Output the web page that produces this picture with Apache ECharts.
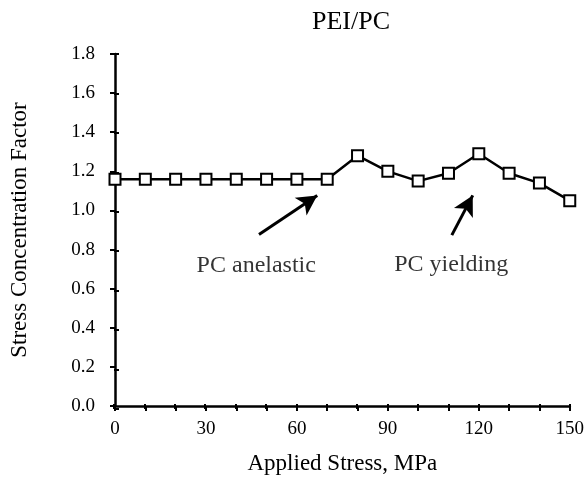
<!DOCTYPE html>
<html>
<head>
<meta charset="utf-8">
<script src="https://cdn.jsdelivr.net/npm/echarts@6/dist/echarts.min.js"></script>
<style>
  html, body { margin: 0; padding: 0; background: #fff; }
  #chart { width: 587px; height: 480px; }
</style>
</head>
<body>
<div id="chart"></div>
<script>
// Applied stress (MPa) and measured stress concentration factor
const stress = [0, 10, 20, 30, 40, 50, 60, 70, 80, 90, 100, 110, 120, 130, 140, 150];
const factor = [1.16, 1.16, 1.16, 1.16, 1.16, 1.16, 1.16, 1.16, 1.28, 1.20, 1.15, 1.19, 1.29, 1.19, 1.14, 1.05];

// Annotation arrows: [fromX, fromY, toX, toY] in data units
const arrowAnelastic = [47.5, 0.877, 66.7, 1.077];
const arrowYielding = [111.1, 0.874, 118.0, 1.077];
// Annotation text positions [x, y, text]
const notes = [
  [46.6, 0.717, 'PC anelastic'],
  [110.9, 0.72, 'PC yielding']
];

const FONT = '"Liberation Serif", "DejaVu Serif", serif';
const grid = { left: 114, right: 17, top: 54, bottom: 71 };

const chart = echarts.init(document.getElementById('chart'), null, { renderer: 'canvas' });

const xBase = { type: 'value', min: 0, max: 150, interval: 10 };
const yBase = { type: 'value', min: 0, max: 1.8, interval: 0.2 };

chart.setOption({
  backgroundColor: '#fff',
  animation: false,
  title: {
    text: 'PEI/PC',
    left: 346, top: 4, textAlign: 'center',
    textStyle: { fontFamily: FONT, fontSize: 26, fontWeight: 'normal', color: '#000' }
  },
  grid: [Object.assign({}, grid), Object.assign({}, grid)],
  xAxis: [
    Object.assign({}, xBase, {
      gridIndex: 0,
      name: 'Applied Stress, MPa',
      nameLocation: 'middle',
      nameGap: 46,
      nameTextStyle: { fontFamily: FONT, fontSize: 23, color: '#000' },
      axisLine: { onZero: false, lineStyle: { color: '#000', width: 2.5 } },
      axisTick: { show: true, inside: false, length: 5, lineStyle: { color: '#000', width: 2 } },
      axisLabel: {
        margin: 14, fontFamily: FONT, fontSize: 19, color: '#000',
        formatter: v => (v % 30 === 0 ? String(v) : '')
      },
      splitLine: { show: false }
    }),
    // inner half of the crossing tick marks
    Object.assign({}, xBase, {
      gridIndex: 1, position: 'bottom',
      axisLine: { show: false, onZero: false },
      axisTick: { show: true, inside: true, length: 5, lineStyle: { color: '#000', width: 2 } },
      axisLabel: { show: false },
      splitLine: { show: false }
    })
  ],
  yAxis: [
    Object.assign({}, yBase, {
      gridIndex: 0,
      name: 'Stress Concentration Factor',
      nameLocation: 'middle',
      nameGap: 84,
      nameTextStyle: { fontFamily: FONT, fontSize: 23, color: '#000' },
      axisLine: { show: true, onZero: false, lineStyle: { color: '#000', width: 2.5 } },
      axisTick: { show: true, inside: false, length: 5, lineStyle: { color: '#000', width: 2 } },
      axisLabel: {
        margin: 20, fontFamily: FONT, fontSize: 19, color: '#000',
        formatter: v => v.toFixed(1)
      },
      splitLine: { show: false }
    }),
    Object.assign({}, yBase, {
      gridIndex: 1, position: 'left',
      axisLine: { show: false, onZero: false },
      axisTick: { show: true, inside: true, length: 5, lineStyle: { color: '#000', width: 2 } },
      axisLabel: { show: false },
      splitLine: { show: false }
    })
  ],
  series: [
    {
      type: 'line',
      xAxisIndex: 0, yAxisIndex: 0,
      data: stress.map((s, i) => [s, factor[i]]),
      symbol: 'rect',
      symbolSize: 11,
      showAllSymbol: true,
      lineStyle: { color: '#000', width: 2.5 },
      itemStyle: { color: '#fff', borderColor: '#000', borderWidth: 2 },
      z: 3,
      markLine: {
        silent: true,
        symbol: ['none', 'arrow'],
        symbolSize: [16, 20],
        label: { show: false },
        lineStyle: { color: '#000', width: 3, type: 'solid' },
        data: [
          [{ coord: arrowAnelastic.slice(0, 2) }, { coord: arrowAnelastic.slice(2, 4) }],
          [{ coord: arrowYielding.slice(0, 2) }, { coord: arrowYielding.slice(2, 4) }]
        ]
      }
    },
    {
      type: 'scatter',
      xAxisIndex: 0, yAxisIndex: 0,
      data: notes.map(n => ({ value: [n[0], n[1]], name: n[2] })),
      symbolSize: 0,
      silent: true,
      label: {
        show: true, position: 'inside',
        formatter: p => p.name,
        fontFamily: FONT, fontSize: 24, color: '#000',
        textBorderWidth: 0
      }
    }
  ]
});
</script>
</body>
</html>
